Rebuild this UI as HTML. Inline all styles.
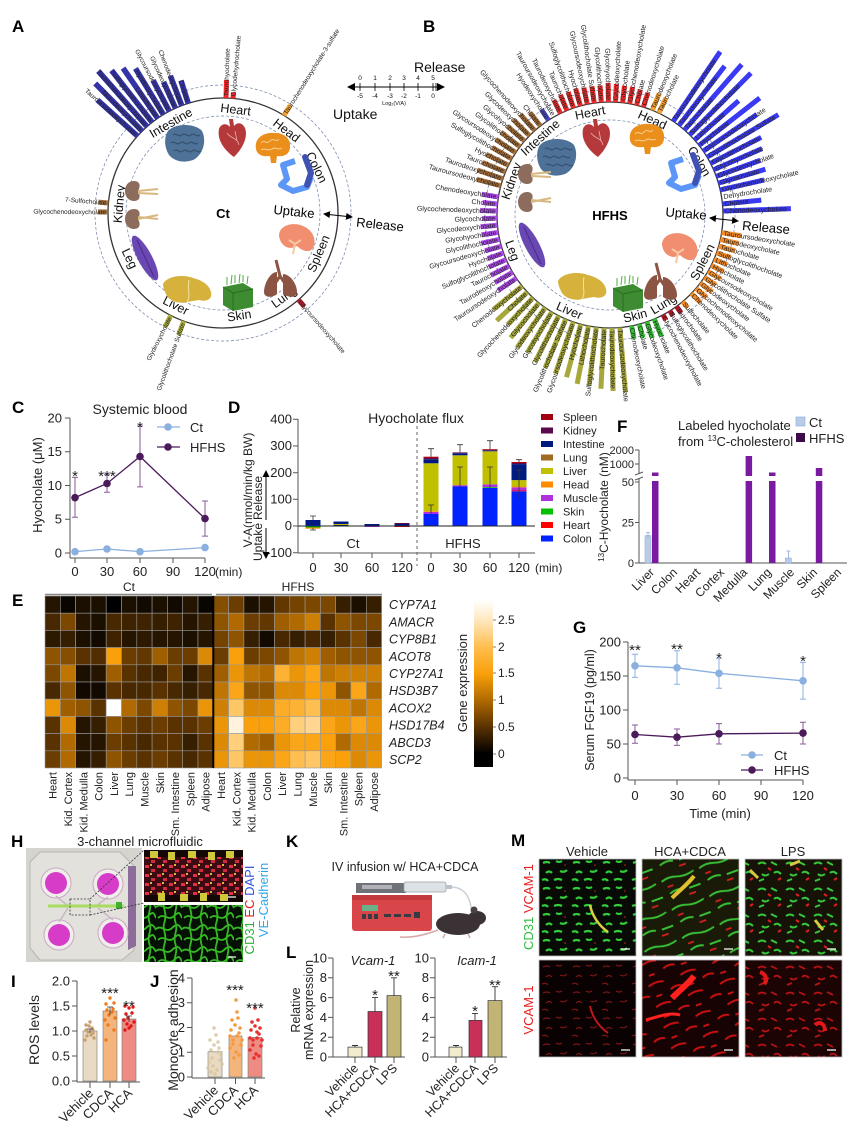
<!DOCTYPE html>
<html><head><meta charset="utf-8"><style>
html,body{margin:0;padding:0;background:#fff;}
svg{display:block;font-family:"Liberation Sans",Arial,sans-serif;}
</style></head><body>
<svg width="856" height="1139" viewBox="0 0 856 1139" xmlns="http://www.w3.org/2000/svg">
<rect width="856" height="1139" fill="#fff"/>
<defs>
<marker id="ah" markerWidth="7" markerHeight="7" refX="6" refY="3.5" orient="auto-start-reverse" markerUnits="userSpaceOnUse"><path d="M0,0 L7,3.5 L0,7Z" fill="#000"/></marker>
<linearGradient id="cb" x1="0" y1="0" x2="0" y2="1">
<stop offset="0" stop-color="#ffffff"/><stop offset="0.12" stop-color="#ffe8c0"/><stop offset="0.28" stop-color="#ffbe50"/><stop offset="0.44" stop-color="#faa00a"/><stop offset="0.60" stop-color="#b06a00"/><stop offset="0.76" stop-color="#5a3200"/><stop offset="0.92" stop-color="#000"/><stop offset="1" stop-color="#000"/>
</linearGradient>
<pattern id="gmesh" width="26" height="22" patternUnits="userSpaceOnUse"><rect width="26" height="22" fill="#051005"/><path d="M0,5 C6,0 10,10 16,4 S24,2 26,6 M2,16 C8,10 12,20 18,14 S24,12 26,16 M8,0 C6,6 12,10 8,22 M20,0 C22,8 16,12 20,22" stroke="#36b825" stroke-width="1.8" fill="none"/></pattern>
<pattern id="rdots" width="12" height="9" patternUnits="userSpaceOnUse"><rect width="12" height="9" fill="#3a0c12"/><rect x="1" y="1" width="4" height="3" fill="#e0304a"/><rect x="7" y="5" width="4" height="3" fill="#d02a40"/><rect x="6" y="0" width="2" height="2" fill="#c8c040"/></pattern>
<pattern id="gv" width="30" height="26" patternUnits="userSpaceOnUse"><rect width="30" height="26" fill="#070a05"/><path d="M3,5 q4,-2 7,0 M16,3 q3,2 6,0 M6,15 q3,-3 6,0 M20,13 q4,2 7,-1 M2,22 q4,-2 6,1 M14,22 q4,-2 8,0" stroke="#33cc3a" stroke-width="2.2" fill="none"/><circle cx="25" cy="7" r="0.8" fill="#d02020"/></pattern>
<pattern id="gvr" width="40" height="30" patternUnits="userSpaceOnUse" patternTransform="rotate(-20)"><rect width="40" height="30" fill="#1a1a08"/><path d="M0,5 q8,-3 16,0 t18,0 M4,19 q8,-3 14,0 M24,20 h12" stroke="#38c034" stroke-width="1.9" fill="none"/><path d="M4,12 h6 M22,26 h7" stroke="#d82020" stroke-width="1.8"/></pattern>
<pattern id="gl" width="28" height="26" patternUnits="userSpaceOnUse"><rect width="28" height="26" fill="#161208"/><path d="M2,6 q4,-3 8,0 M15,4 l6,3 M6,16 q3,3 7,0 M18,15 q3,-3 7,1 M3,23 l5,-2" stroke="#36c83a" stroke-width="2" fill="none"/><path d="M12,10 l3,2 M22,22 l3,-2" stroke="#d82020" stroke-width="2"/></pattern>
<pattern id="rv" width="30" height="26" patternUnits="userSpaceOnUse"><rect width="30" height="26" fill="#0a0202"/><path d="M3,5 q4,-2 7,0 M16,3 q3,2 6,0 M6,15 q3,-3 6,0 M20,13 q4,2 7,-1 M2,22 q4,-2 6,1" stroke="#7a1414" stroke-width="1.2" fill="none"/></pattern>
<pattern id="rb" width="34" height="22" patternUnits="userSpaceOnUse" patternTransform="rotate(-20)"><rect width="34" height="22" fill="#170303"/><path d="M0,5 q8,-3 16,0 M20,15 q6,-3 12,0 M4,17 h6" stroke="#c81010" stroke-width="2" fill="none"/></pattern>
<pattern id="rl" width="28" height="26" patternUnits="userSpaceOnUse"><rect width="28" height="26" fill="#1c0404"/><path d="M2,6 q4,-3 8,0 M15,4 l6,3 M6,16 q3,3 7,0 M18,15 q3,-3 7,1 M3,23 l5,-2" stroke="#b81212" stroke-width="1.8" fill="none"/></pattern>

<g id="ic-int"><path d="M-17,-12 C-10,-20 10,-20 17,-12 C22,-2 18,12 8,17 C0,20 -10,19 -16,12 C-21,4 -21,-6 -17,-12Z" fill="#4e7297"/><path d="M-12,-8 c3,-3 6,3 9,0 c3,-3 6,3 9,0 c3,-3 6,3 9,0 M-14,0 c3,-3 6,3 9,0 c3,-3 6,3 9,0 c3,-3 6,3 9,0 M-11,8 c3,-3 6,3 9,0 c3,-3 6,3 9,0 c3,-3 6,3 9,0" stroke="#33506e" stroke-width="1.2" fill="none"/></g>
<g id="ic-heart"><path d="M1,20 C-10,12 -16,2 -14,-8 C-12,-14 -6,-14 -3,-10 L-4,-18 L0,-18 L1,-11 C4,-15 9,-15 12,-9 C15,-1 11,10 1,20Z" fill="#b5383b"/><path d="M-6,-4 C-2,2 4,0 6,8 M2,-6 L4,4" stroke="#e8b0a8" stroke-width="0.8" fill="none"/></g>
<g id="ic-brain"><path d="M-17,2 C-19,-10 -8,-15 2,-14 C12,-14 18,-8 17,1 C16,8 10,10 4,9 L3,16 L-2,16 L-3,9 C-10,10 -16,8 -17,2Z" fill="#ea8e1c"/><path d="M-12,-4 c3,-4 6,2 9,-2 c3,-4 6,2 9,-2 M-12,3 c4,-3 7,2 11,-1 c3,-3 6,2 10,-1" stroke="#f8d090" stroke-width="1" fill="none"/></g>
<g id="ic-colon"><path d="M-2,-14 L-14,-10 L-10,4 L-16,10 L-4,16 L10,12 L14,2" stroke="#5c96f6" stroke-width="6" fill="none" stroke-linejoin="round"/><path d="M8,-18 L14,-2 L10,10" stroke="#3f52b4" stroke-width="6" fill="none" stroke-linecap="round"/></g>
<g id="ic-spleen"><path d="M-18,-2 C-18,-14 -2,-16 6,-12 C16,-8 20,2 16,10 C12,16 4,12 0,8 C-6,12 -16,10 -18,-2Z" fill="#f08e6f"/><path d="M-4,16 L-2,6 M-2,6 L-8,2 M-2,6 L4,2" stroke="#f6c9a0" stroke-width="2" fill="none"/></g>
<g id="ic-lung"><path d="M-3,-8 C-10,-8 -16,4 -16,12 C-16,18 -8,18 -3,14Z" fill="#8c5443"/><path d="M3,-6 C10,-6 17,4 17,12 C17,18 9,18 3,14Z" fill="#8c5443"/><path d="M-4,-20 L0,-4 M0,-4 L-4,2 M0,-4 L4,2" stroke="#8c5443" stroke-width="3" fill="none"/></g>
<g id="ic-skin"><path d="M-14,-6 L6,-10 L16,-4 L16,14 L-4,18 L-14,12Z" fill="#3e8c32"/><path d="M-14,-6 L-4,0 L16,-4 M-4,0 L-4,18" stroke="#2a6a22" stroke-width="1" fill="none"/><path d="M-10,-8 l0,-8 M-6,-9 l1,-9 M-2,-10 l0,-8 M2,-10 l1,-9 M6,-11 l0,-7 M10,-9 l1,-8" stroke="#4ab03a" stroke-width="1"/></g>
<g id="ic-liver"><path d="M-24,-4 C-20,-12 -4,-14 6,-10 C14,-8 22,-4 24,4 C26,12 18,14 12,12 L0,14 C-6,16 -16,14 -20,8 C-22,4 -24,0 -24,-4Z" fill="#d6b23d"/><path d="M2,-8 C0,2 4,8 0,14" stroke="#f3e2a0" stroke-width="1" fill="none"/></g>
<g id="ic-leg"><ellipse cx="0" cy="0" rx="7" ry="25" transform="rotate(-28)" fill="#6a48b2"/><path d="M-8,-18 L9,19" stroke="#4a2a90" stroke-width="1"/></g>
<g id="ic-kid"><path d="M-8,-24 C-20,-24 -20,-4 -8,-4 C-2,-4 -1,-9 -4,-14 C-1,-19 -2,-24 -8,-24Z" fill="#8c6c5c"/><path d="M-8,4 C-20,4 -20,24 -8,24 C-2,24 -1,19 -4,14 C-1,9 -2,4 -8,4Z" fill="#8c6c5c"/><path d="M-4,-14 L16,-16 M-4,-12 L16,-11 M-4,14 L16,10 M-4,12 L16,14" stroke="#d8b87e" stroke-width="2" fill="none"/></g>
</defs>

<!-- Panel letters -->
<g font-weight="bold" font-size="17" fill="#000">
<text x="12" y="32">A</text><text x="423" y="32">B</text>
<text x="12" y="413">C</text><text x="228" y="413">D</text>
<text x="12" y="606">E</text><text x="617" y="432">F</text>
<text x="573" y="633">G</text><text x="11" y="847">H</text>
<text x="11" y="987">I</text><text x="150" y="987">J</text>
<text x="286" y="847">K</text><text x="286" y="958">L</text>
<text x="511" y="846">M</text>
</g>

<!-- ================= PANEL A ================= -->
<g>
<circle cx="223" cy="213" r="128" fill="none" stroke="#7080a8" stroke-width="0.7" stroke-dasharray="3,2"/>
<circle cx="223" cy="213" r="97" fill="none" stroke="#7080a8" stroke-width="0.7" stroke-dasharray="3,2"/>
<circle cx="223" cy="213" r="115" fill="none" stroke="#333" stroke-width="1.3"/>
<g font-size="6.5" fill="#222">
<g transform="rotate(-48 223 213)"><rect x="220.2" y="44" width="5.6" height="54" fill="#3434a8"/><text x="223" y="96" transform="rotate(90 223 96)" text-anchor="end" dy="2.3">Tauroursodeoxycholate</text></g>
<g transform="rotate(-44.6 223 213)"><rect x="220.2" y="31" width="5.6" height="67" fill="#3434a8"/><text x="223" y="96" transform="rotate(90 223 96)" text-anchor="end" dy="2.3">Taurodeoxycholate</text></g>
<g transform="rotate(-41.3 223 213)"><rect x="220.2" y="24" width="5.6" height="74" fill="#3434a8"/><text x="223" y="96" transform="rotate(90 223 96)" text-anchor="end" dy="2.3">Taurochenodeoxycholate</text></g>
<g transform="rotate(-38 223 213)"><rect x="220.2" y="32" width="5.6" height="66" fill="#3434a8"/><text x="223" y="96" transform="rotate(90 223 96)" text-anchor="end" dy="2.3">Sulfoglycolithocholate</text></g>
<g transform="rotate(-34.6 223 213)"><rect x="220.2" y="37" width="5.6" height="61" fill="#3434a8"/><text x="223" y="96" transform="rotate(90 223 96)" text-anchor="end" dy="2.3">Lithocholate</text></g>
<g transform="rotate(-31.2 223 213)"><rect x="220.2" y="44" width="5.6" height="54" fill="#3434a8"/><text x="223" y="96" transform="rotate(90 223 96)" text-anchor="end" dy="2.3">Hyodeoxycholate</text></g>
<g transform="rotate(-27.8 223 213)"><rect x="220.2" y="63" width="5.6" height="35" fill="#3434a8"/><text x="223" y="96" transform="rotate(90 223 96)" text-anchor="end" dy="2.3">Glycoursodeoxycholate</text></g>
<g transform="rotate(-24.4 223 213)"><rect x="220.2" y="69" width="5.6" height="29" fill="#3434a8"/><text x="223" y="96" transform="rotate(90 223 96)" text-anchor="end" dy="2.3">Glycodeoxycholate</text></g>
<g transform="rotate(-21 223 213)"><rect x="220.2" y="66" width="5.6" height="32" fill="#3434a8"/><text x="223" y="96" transform="rotate(90 223 96)" text-anchor="end" dy="2.3">Chenodeoxycholate</text></g>
<g transform="rotate(-17.6 223 213)"><rect x="220.2" y="74" width="5.6" height="24" fill="#3434a8"/><text x="223" y="96" transform="rotate(90 223 96)" text-anchor="end" dy="2.3">Cholate</text></g>
<g transform="rotate(1.5 223 213)"><rect x="220.5" y="80" width="5" height="18" fill="#f02828"/><text x="223" y="96" transform="rotate(-90 223 96)" dy="2.3">Taurohyocholate</text></g>
<g transform="rotate(5 223 213)"><rect x="220.5" y="92" width="5" height="6" fill="#f02828"/><text x="223" y="96" transform="rotate(-90 223 96)" dy="2.3">Glycodehydrocholate</text></g>
<g transform="rotate(32 223 213)"><rect x="220.5" y="86" width="5" height="12" fill="#f5a030"/><text x="223" y="96" transform="rotate(-90 223 96)" dy="2.3">Taurochenodeoxycholate-3-sulfate</text></g>
<g transform="rotate(139 223 213)"><rect x="220.5" y="89" width="5" height="9" fill="#a82030"/><text x="223" y="96" transform="rotate(-90 223 96)" dy="2.3">Glycoursodeoxycholate</text></g>
<g transform="rotate(200 223 213)"><rect x="220.5" y="83" width="5" height="15" fill="#b0b040"/><text x="223" y="96" transform="rotate(90 223 96)" text-anchor="end" dy="2.3">Glycolithocholate Sulfate</text></g>
<g transform="rotate(207 223 213)"><rect x="220.5" y="85" width="5" height="13" fill="#b0b040"/><text x="223" y="96" transform="rotate(90 223 96)" text-anchor="end" dy="2.3">Glydeoxycholate</text></g>
<g transform="rotate(270.5 223 213)"><rect x="220.5" y="88" width="5" height="10" fill="#a0703a"/><text x="223" y="96" transform="rotate(90 223 96)" text-anchor="end" dy="2.3">Glycochenodeoxycholate</text></g>
<g transform="rotate(275 223 213)"><rect x="220.5" y="88" width="5" height="10" fill="#a0703a"/><text x="223" y="96" transform="rotate(90 223 96)" text-anchor="end" dy="2.3">7-Sulfocholate</text></g>
</g>
<g font-size="12.5" fill="#111" text-anchor="middle">
<text x="223" y="109" dy="4" transform="rotate(7 223 213)">Heart</text>
<text x="223" y="109" dy="4" transform="rotate(37.6 223 213)">Head</text>
<text x="223" y="109" dy="4" transform="rotate(64 223 213)">Colon</text>
<text x="223" y="317" dy="4" transform="rotate(-67 223 213)">Spleen</text>
<text x="223" y="317" dy="4" transform="rotate(-36 223 213)">Lung</text>
<text x="223" y="317" dy="4" transform="rotate(-9 223 213)">Skin</text>
<text x="223" y="317" dy="4" transform="rotate(27 223 213)">Liver</text>
<text x="223" y="317" dy="4" transform="rotate(64 223 213)">Leg</text>
<text x="223" y="109" dy="4" transform="rotate(-85 223 213)">Kidney</text>
<text x="223" y="109" dy="4" transform="rotate(-30 223 213)">Intestine</text>
</g>
<use href="#ic-int" x="185" y="143"/><use href="#ic-heart" x="233" y="137"/><use href="#ic-brain" x="273" y="147"/><use href="#ic-colon" x="297" y="175"/><use href="#ic-spleen" x="297" y="238"/><use href="#ic-lung" x="280" y="280"/><use href="#ic-skin" x="237" y="293"/><use href="#ic-liver" x="187" y="288"/><use href="#ic-leg" x="145" y="258"/><use href="#ic-kid" x="142" y="205"/>
<text x="223" y="218" text-anchor="middle" font-weight="bold" font-size="13">Ct</text>
<text x="294" y="216" text-anchor="middle" font-size="13" transform="rotate(6 294 212)">Uptake</text>
<line x1="324" y1="214" x2="352" y2="217" stroke="#000" stroke-width="1" marker-start="url(#ah)" marker-end="url(#ah)"/>
<text x="380" y="229" text-anchor="middle" font-size="13" transform="rotate(6 380 225)">Release</text>
</g>

<!-- scale legend -->
<g fill="#111">
<line x1="352" y1="87" x2="440" y2="87" stroke="#000" stroke-width="1"/>
<path d="M347,87 L355,83 L355,91Z" fill="#000"/><path d="M445,87 L437,83 L437,91Z" fill="#000"/>
<path d="M360,83V91M375,83V91M390,83V91M404,83V91M418,83V91M433,83V91M436,83V91" stroke="#000" stroke-width="0.8"/>
<g font-size="6.5" text-anchor="middle"><text x="360" y="80">0</text><text x="375" y="80">1</text><text x="390" y="80">2</text><text x="404" y="80">3</text><text x="418" y="80">4</text><text x="433" y="80">5</text>
<text x="360" y="98">-5</text><text x="375" y="98">-4</text><text x="390" y="98">-3</text><text x="404" y="98">-2</text><text x="418" y="98">-1</text><text x="433" y="98">0</text>
<text x="394" y="105" font-size="5.5">Log₂(V/A)</text></g>
<text x="414" y="72" font-size="14">Release</text>
<text x="333" y="119" font-size="14">Uptake</text>
</g>

<!-- ================= PANEL B ================= -->
<g>
<circle cx="610" cy="215" r="125" fill="none" stroke="#7080a8" stroke-width="0.7" stroke-dasharray="3,2"/>
<circle cx="610" cy="215" r="95" fill="none" stroke="#7080a8" stroke-width="0.7" stroke-dasharray="3,2"/>
<circle cx="610" cy="215" r="113" fill="none" stroke="#333" stroke-width="1.3"/>
<g font-size="7" fill="#222">
<!-- Intestine -->
<g transform="rotate(327 610 215)"><rect x="607.5" y="89" width="5" height="13" fill="#4848c8"/><text x="610" y="100" transform="rotate(90 610 100)" text-anchor="end" dy="2.4">Hyodeoxycholate</text></g>
<g transform="rotate(330.5 610 215)"><text x="610" y="100" transform="rotate(90 610 100)" text-anchor="end" dy="2.4">Tauroursodeoxycholate</text></g>
<!-- Heart -->
<g transform="rotate(-26 610 215)"><rect x="607.5" y="87" width="5" height="15" fill="#ee2a2a"/><text x="610" y="100" transform="rotate(90 610 100)" text-anchor="end" dy="2.4">Taurodeoxycholate</text></g>
<g transform="rotate(-22.4 610 215)"><rect x="607.5" y="85" width="5" height="17" fill="#ee2a2a"/><text x="610" y="100" transform="rotate(90 610 100)" text-anchor="end" dy="2.4">Taurocholate</text></g>
<g transform="rotate(-18.8 610 215)"><rect x="607.5" y="85" width="5" height="17" fill="#ee2a2a"/><text x="610" y="100" transform="rotate(90 610 100)" text-anchor="end" dy="2.4">Sulfoglycolithocholate</text></g>
<g transform="rotate(-15.2 610 215)"><rect x="607.5" y="84" width="5" height="18" fill="#ee2a2a"/><text x="610" y="100" transform="rotate(90 610 100)" text-anchor="end" dy="2.4">Hyocholate</text></g>
<g transform="rotate(-11.6 610 215)"><rect x="607.5" y="85" width="5" height="17" fill="#ee2a2a"/><text x="610" y="100" transform="rotate(90 610 100)" text-anchor="end" dy="2.4">Glycoursodeoxycholate</text></g>
<g transform="rotate(-8 610 215)"><rect x="607.5" y="85" width="5" height="17" fill="#ee2a2a"/><text x="610" y="100" transform="rotate(90 610 100)" text-anchor="end" dy="2.4">Glycolithocholate Sulfate</text></g>
<g transform="rotate(-4.4 610 215)"><rect x="607.5" y="85" width="5" height="17" fill="#ee2a2a"/><text x="610" y="100" transform="rotate(90 610 100)" text-anchor="end" dy="2.4">Glycolithocholate</text></g>
<g transform="rotate(-0.8 610 215)"><rect x="607.5" y="83" width="5" height="19" fill="#ee2a2a"/><text x="610" y="100" transform="rotate(90 610 100)" text-anchor="end" dy="2.4">Glycohyocholate</text></g>
<g transform="rotate(2.8 610 215)"><rect x="607.5" y="84" width="5" height="18" fill="#ee2a2a"/><text x="610" y="100" transform="rotate(-90 610 100)" dy="2.4">Glycodeoxycholate</text></g>
<g transform="rotate(6.4 610 215)"><rect x="607.5" y="85" width="5" height="17" fill="#ee2a2a"/><text x="610" y="100" transform="rotate(-90 610 100)" dy="2.4">Glycocholate</text></g>
<g transform="rotate(10 610 215)"><rect x="607.5" y="85" width="5" height="17" fill="#ee2a2a"/><text x="610" y="100" transform="rotate(-90 610 100)" dy="2.4">Glycochenodeoxycholate</text></g>
<g transform="rotate(13.6 610 215)"><rect x="607.5" y="86" width="5" height="16" fill="#ee2a2a"/><text x="610" y="100" transform="rotate(-90 610 100)" dy="2.4">Cholate</text></g>
<g transform="rotate(17.2 610 215)"><rect x="607.5" y="87" width="5" height="15" fill="#ee2a2a"/><text x="610" y="100" transform="rotate(-90 610 100)" dy="2.4">Chenodeoxycholate</text></g>
<!-- Head -->
<g transform="rotate(22 610 215)"><rect x="607.5" y="84" width="5" height="18" fill="#f5a030"/><text x="610" y="100" transform="rotate(-90 610 100)" dy="2.4">Taurodeoxycholate</text></g>
<g transform="rotate(25.6 610 215)"><rect x="607.5" y="85" width="5" height="17" fill="#f5a030"/><text x="610" y="100" transform="rotate(-90 610 100)" dy="2.4">Taurocholate</text></g>
<!-- Colon -->
<g transform="rotate(34 610 215)"><rect x="607.5" y="18" width="5" height="84" fill="#3a3af5"/><text x="610" y="100" transform="rotate(-90 610 100)" dy="2.4">Tauroursodeoxycholate</text></g>
<g transform="rotate(37.6 610 215)"><rect x="607.5" y="27" width="5" height="75" fill="#3a3af5"/><text x="610" y="100" transform="rotate(-90 610 100)" dy="2.4">Taurodeoxycholate</text></g>
<g transform="rotate(41.2 610 215)"><rect x="607.5" y="15" width="5" height="87" fill="#3a3af5"/><text x="610" y="100" transform="rotate(-90 610 100)" dy="2.4">Taurocholate</text></g>
<g transform="rotate(44.8 610 215)"><rect x="607.5" y="15" width="5" height="87" fill="#3a3af5"/><text x="610" y="100" transform="rotate(-90 610 100)" dy="2.4">Sulfoglycolithocholate</text></g>
<g transform="rotate(48.4 610 215)"><rect x="607.5" y="43" width="5" height="59" fill="#3a3af5"/><text x="610" y="100" transform="rotate(-90 610 100)" dy="2.4">Lithocholate</text></g>
<g transform="rotate(52 610 215)"><rect x="607.5" y="25" width="5" height="77" fill="#3a3af5"/><text x="610" y="100" transform="rotate(-90 610 100)" dy="2.4">Hyocholate</text></g>
<g transform="rotate(55.6 610 215)"><rect x="607.5" y="37" width="5" height="65" fill="#3a3af5"/><text x="610" y="100" transform="rotate(-90 610 100)" dy="2.4">Glycoursodeoxycholate</text></g>
<g transform="rotate(59.2 610 215)"><rect x="607.5" y="19" width="5" height="83" fill="#3a3af5"/><text x="610" y="100" transform="rotate(-90 610 100)" dy="2.4">Glycolithocholate Sulfate</text></g>
<g transform="rotate(62.8 610 215)"><rect x="607.5" y="45" width="5" height="57" fill="#3a3af5"/><text x="610" y="100" transform="rotate(-90 610 100)" dy="2.4">Glycolithocholate</text></g>
<g transform="rotate(66.4 610 215)"><rect x="607.5" y="49" width="5" height="53" fill="#3a3af5"/><text x="610" y="100" transform="rotate(-90 610 100)" dy="2.4">Glycohyocholate</text></g>
<g transform="rotate(70 610 215)"><rect x="607.5" y="55" width="5" height="47" fill="#3a3af5"/><text x="610" y="100" transform="rotate(-90 610 100)" dy="2.4">Glycodeoxycholate</text></g>
<g transform="rotate(73.6 610 215)"><rect x="607.5" y="53" width="5" height="49" fill="#3a3af5"/><text x="610" y="100" transform="rotate(-90 610 100)" dy="2.4">Glycocholate</text></g>
<g transform="rotate(77.2 610 215)"><rect x="607.5" y="57" width="5" height="45" fill="#3a3af5"/><text x="610" y="100" transform="rotate(-90 610 100)" dy="2.4">Glycochenodeoxycholate</text></g>
<g transform="rotate(80.8 610 215)"><text x="610" y="100" transform="rotate(-90 610 100)" dy="2.4">Dehydrocholate</text></g>
<g transform="rotate(84.4 610 215)"><rect x="607.5" y="63" width="5" height="39" fill="#3a3af5"/><text x="610" y="100" transform="rotate(-90 610 100)" dy="2.4">Cholate</text></g>
<g transform="rotate(88 610 215)"><rect x="607.5" y="34" width="5" height="68" fill="#3a3af5"/><text x="610" y="100" transform="rotate(-90 610 100)" dy="2.4">Chenodeoxycholate</text></g>
<!-- Spleen -->
<g transform="rotate(99 610 215)"><rect x="607.5" y="82" width="5" height="20" fill="#f58c28"/><text x="610" y="100" transform="rotate(-90 610 100)" dy="2.4">Tauroursodeoxycholate</text></g>
<g transform="rotate(102.5 610 215)"><rect x="607.5" y="83" width="5" height="19" fill="#f58c28"/><text x="610" y="100" transform="rotate(-90 610 100)" dy="2.4">Taurodeoxycholate</text></g>
<g transform="rotate(106 610 215)"><rect x="607.5" y="85" width="5" height="17" fill="#f58c28"/><text x="610" y="100" transform="rotate(-90 610 100)" dy="2.4">Taurocholate</text></g>
<g transform="rotate(109.5 610 215)"><rect x="607.5" y="87" width="5" height="15" fill="#f58c28"/><text x="610" y="100" transform="rotate(-90 610 100)" dy="2.4">Sulfoglycolithocholate</text></g>
<g transform="rotate(113 610 215)"><rect x="607.5" y="88" width="5" height="14" fill="#f58c28"/><text x="610" y="100" transform="rotate(-90 610 100)" dy="2.4">Lithocholate</text></g>
<g transform="rotate(116.5 610 215)"><rect x="607.5" y="88" width="5" height="14" fill="#f58c28"/><text x="610" y="100" transform="rotate(-90 610 100)" dy="2.4">Hyocholate</text></g>
<g transform="rotate(120 610 215)"><rect x="607.5" y="87" width="5" height="15" fill="#f58c28"/><text x="610" y="100" transform="rotate(-90 610 100)" dy="2.4">Glycoursodeoxycholate</text></g>
<g transform="rotate(123.5 610 215)"><rect x="607.5" y="88" width="5" height="14" fill="#f58c28"/><text x="610" y="100" transform="rotate(-90 610 100)" dy="2.4">Glycolithocholate Sulfate</text></g>
<g transform="rotate(127 610 215)"><rect x="607.5" y="87" width="5" height="15" fill="#f58c28"/><text x="610" y="100" transform="rotate(-90 610 100)" dy="2.4">Glycodeoxycholate</text></g>
<g transform="rotate(130.5 610 215)"><rect x="607.5" y="88" width="5" height="14" fill="#f58c28"/><text x="610" y="100" transform="rotate(-90 610 100)" dy="2.4">Glycochenodeoxycholate</text></g>
<g transform="rotate(134 610 215)"><rect x="607.5" y="89" width="5" height="13" fill="#f58c28"/><text x="610" y="100" transform="rotate(-90 610 100)" dy="2.4">Chenodeoxycholate</text></g>
<!-- Lung -->
<g transform="rotate(140 610 215)"><rect x="607.5" y="94" width="5" height="8" fill="#f58c28"/><text x="610" y="100" transform="rotate(-90 610 100)" dy="2.4">Sulfocholate</text></g>
<g transform="rotate(144 610 215)"><rect x="607.5" y="94" width="5" height="8" fill="#b01828"/><text x="610" y="100" transform="rotate(-90 610 100)" dy="2.4">Taurocholate</text></g>
<g transform="rotate(148 610 215)"><rect x="607.5" y="96" width="5" height="6" fill="#b01828"/><text x="610" y="100" transform="rotate(-90 610 100)" dy="2.4">Sulfoglycolithocholate</text></g>
<g transform="rotate(152 610 215)"><rect x="607.5" y="96" width="5" height="6" fill="#b01828"/><text x="610" y="100" transform="rotate(-90 610 100)" dy="2.4">Glycochenodeoxycholate</text></g>
<!-- Skin -->
<g transform="rotate(157 610 215)"><rect x="607.5" y="83" width="5" height="19" fill="#33c033"/><text x="610" y="100" transform="rotate(-90 610 100)" dy="2.4">Hyocholate</text></g>
<g transform="rotate(161 610 215)"><rect x="607.5" y="85" width="5" height="17" fill="#33c033"/><text x="610" y="100" transform="rotate(-90 610 100)" dy="2.4">Glycodeoxycholate</text></g>
<g transform="rotate(165 610 215)"><rect x="607.5" y="88" width="5" height="14" fill="#33c033"/><text x="610" y="100" transform="rotate(-90 610 100)" dy="2.4">Cholate</text></g>
<g transform="rotate(169 610 215)"><rect x="607.5" y="89" width="5" height="13" fill="#33c033"/><text x="610" y="100" transform="rotate(-90 610 100)" dy="2.4">Chenodeoxycholate</text></g>
<!-- Liver -->
<g transform="rotate(175 610 215)"><rect x="607.5" y="37" width="5" height="65" fill="#a8a83a"/><text x="610" y="100" transform="rotate(-90 610 100)" dy="2.4">Tauroursodeoxycholate</text></g>
<g transform="rotate(179 610 215)"><rect x="607.5" y="39" width="5" height="63" fill="#a8a83a"/><text x="610" y="100" transform="rotate(-90 610 100)" dy="2.4">Taurodeoxycholate</text></g>
<g transform="rotate(183 610 215)"><rect x="607.5" y="41" width="5" height="61" fill="#a8a83a"/><text x="610" y="100" transform="rotate(90 610 100)" text-anchor="end" dy="2.4">Taurocholate</text></g>
<g transform="rotate(187 610 215)"><rect x="607.5" y="43" width="5" height="59" fill="#a8a83a"/><text x="610" y="100" transform="rotate(90 610 100)" text-anchor="end" dy="2.4">Sulfoglycolithocholate</text></g>
<g transform="rotate(191 610 215)"><rect x="607.5" y="43" width="5" height="59" fill="#a8a83a"/><text x="610" y="100" transform="rotate(90 610 100)" text-anchor="end" dy="2.4">Lithocholate</text></g>
<g transform="rotate(195 610 215)"><rect x="607.5" y="47" width="5" height="55" fill="#a8a83a"/><text x="610" y="100" transform="rotate(90 610 100)" text-anchor="end" dy="2.4">Hyocholate</text></g>
<g transform="rotate(199 610 215)"><rect x="607.5" y="47" width="5" height="55" fill="#a8a83a"/><text x="610" y="100" transform="rotate(90 610 100)" text-anchor="end" dy="2.4">Glycoursodeoxycholate</text></g>
<g transform="rotate(203 610 215)"><rect x="607.5" y="49" width="5" height="53" fill="#a8a83a"/><text x="610" y="100" transform="rotate(90 610 100)" text-anchor="end" dy="2.4">Glycolithocholate Sulfate</text></g>
<g transform="rotate(207 610 215)"><rect x="607.5" y="50" width="5" height="52" fill="#a8a83a"/><text x="610" y="100" transform="rotate(90 610 100)" text-anchor="end" dy="2.4">Glycolithocholate</text></g>
<g transform="rotate(211 610 215)"><rect x="607.5" y="55" width="5" height="47" fill="#a8a83a"/><text x="610" y="100" transform="rotate(90 610 100)" text-anchor="end" dy="2.4">Glycohyocholate</text></g>
<g transform="rotate(215 610 215)"><rect x="607.5" y="53" width="5" height="49" fill="#a8a83a"/><text x="610" y="100" transform="rotate(90 610 100)" text-anchor="end" dy="2.4">Glycodeoxycholate</text></g>
<g transform="rotate(219 610 215)"><rect x="607.5" y="57" width="5" height="45" fill="#a8a83a"/><text x="610" y="100" transform="rotate(90 610 100)" text-anchor="end" dy="2.4">Glycocholate</text></g>
<g transform="rotate(223 610 215)"><rect x="607.5" y="65" width="5" height="37" fill="#a8a83a"/><text x="610" y="100" transform="rotate(90 610 100)" text-anchor="end" dy="2.4">Glycochenodeoxycholate</text></g>
<g transform="rotate(227 610 215)"><rect x="607.5" y="60" width="5" height="42" fill="#a8a83a"/><text x="610" y="100" transform="rotate(90 610 100)" text-anchor="end" dy="2.4">Cholate</text></g>
<g transform="rotate(231 610 215)"><rect x="607.5" y="65" width="5" height="37" fill="#a8a83a"/><text x="610" y="100" transform="rotate(90 610 100)" text-anchor="end" dy="2.4">Chenodeoxycholate</text></g>
<!-- Leg -->
<g transform="rotate(236 610 215)"><rect x="607.5" y="80" width="5" height="22" fill="#b048f0"/><text x="610" y="100" transform="rotate(90 610 100)" text-anchor="end" dy="2.4">Tauroursodeoxycholate</text></g>
<g transform="rotate(239.6 610 215)"><rect x="607.5" y="82" width="5" height="20" fill="#b048f0"/><text x="610" y="100" transform="rotate(90 610 100)" text-anchor="end" dy="2.4">Taurodeoxycholate</text></g>
<g transform="rotate(243.2 610 215)"><rect x="607.5" y="82" width="5" height="20" fill="#b048f0"/><text x="610" y="100" transform="rotate(90 610 100)" text-anchor="end" dy="2.4">Taurocholate</text></g>
<g transform="rotate(246.8 610 215)"><rect x="607.5" y="83" width="5" height="19" fill="#b048f0"/><text x="610" y="100" transform="rotate(90 610 100)" text-anchor="end" dy="2.4">Sulfoglycolithocholate</text></g>
<g transform="rotate(250.4 610 215)"><rect x="607.5" y="85" width="5" height="17" fill="#b048f0"/><text x="610" y="100" transform="rotate(90 610 100)" text-anchor="end" dy="2.4">Hyocholate</text></g>
<g transform="rotate(254 610 215)"><rect x="607.5" y="85" width="5" height="17" fill="#b048f0"/><text x="610" y="100" transform="rotate(90 610 100)" text-anchor="end" dy="2.4">Glycoursodeoxycholate</text></g>
<g transform="rotate(257.6 610 215)"><rect x="607.5" y="83" width="5" height="19" fill="#b048f0"/><text x="610" y="100" transform="rotate(90 610 100)" text-anchor="end" dy="2.4">Glycolithocholate</text></g>
<g transform="rotate(261.2 610 215)"><rect x="607.5" y="85" width="5" height="17" fill="#b048f0"/><text x="610" y="100" transform="rotate(90 610 100)" text-anchor="end" dy="2.4">Glycohyocholate</text></g>
<g transform="rotate(264.8 610 215)"><rect x="607.5" y="85" width="5" height="17" fill="#b048f0"/><text x="610" y="100" transform="rotate(90 610 100)" text-anchor="end" dy="2.4">Glycodeoxycholate</text></g>
<g transform="rotate(268.4 610 215)"><rect x="607.5" y="87" width="5" height="15" fill="#b048f0"/><text x="610" y="100" transform="rotate(90 610 100)" text-anchor="end" dy="2.4">Glycocholate</text></g>
<g transform="rotate(272 610 215)"><rect x="607.5" y="85" width="5" height="17" fill="#b048f0"/><text x="610" y="100" transform="rotate(90 610 100)" text-anchor="end" dy="2.4">Glycochenodeoxycholate</text></g>
<g transform="rotate(275.6 610 215)"><rect x="607.5" y="87" width="5" height="15" fill="#b048f0"/><text x="610" y="100" transform="rotate(90 610 100)" text-anchor="end" dy="2.4">Cholate</text></g>
<g transform="rotate(279.2 610 215)"><rect x="607.5" y="85" width="5" height="17" fill="#b048f0"/><text x="610" y="100" transform="rotate(90 610 100)" text-anchor="end" dy="2.4">Chenodeoxycholate</text></g>
<!-- Kidney -->
<g transform="rotate(285 610 215)"><rect x="607.5" y="77" width="5" height="25" fill="#a8703a"/><text x="610" y="100" transform="rotate(90 610 100)" text-anchor="end" dy="2.4">Tauroursodeoxycholate</text></g>
<g transform="rotate(288.7 610 215)"><rect x="607.5" y="75" width="5" height="27" fill="#a8703a"/><text x="610" y="100" transform="rotate(90 610 100)" text-anchor="end" dy="2.4">Taurodeoxycholate</text></g>
<g transform="rotate(292.4 610 215)"><rect x="607.5" y="77" width="5" height="25" fill="#a8703a"/><text x="610" y="100" transform="rotate(90 610 100)" text-anchor="end" dy="2.4">Taurocholate</text></g>
<g transform="rotate(296.1 610 215)"><rect x="607.5" y="77" width="5" height="25" fill="#a8703a"/><text x="610" y="100" transform="rotate(90 610 100)" text-anchor="end" dy="2.4">Hyocholate</text></g>
<g transform="rotate(299.8 610 215)"><rect x="607.5" y="79" width="5" height="23" fill="#a8703a"/><text x="610" y="100" transform="rotate(90 610 100)" text-anchor="end" dy="2.4">Sulfoglycolithocholate</text></g>
<g transform="rotate(303.5 610 215)"><rect x="607.5" y="78" width="5" height="24" fill="#a8703a"/><text x="610" y="100" transform="rotate(90 610 100)" text-anchor="end" dy="2.4">Glycoursodeoxycholate</text></g>
<g transform="rotate(307.2 610 215)"><rect x="607.5" y="78" width="5" height="24" fill="#a8703a"/><text x="610" y="100" transform="rotate(90 610 100)" text-anchor="end" dy="2.4">Glycolithocholate</text></g>
<g transform="rotate(310.9 610 215)"><rect x="607.5" y="79" width="5" height="23" fill="#a8703a"/><text x="610" y="100" transform="rotate(90 610 100)" text-anchor="end" dy="2.4">Glycohyocholate</text></g>
<g transform="rotate(314.6 610 215)"><rect x="607.5" y="79" width="5" height="23" fill="#a8703a"/><text x="610" y="100" transform="rotate(90 610 100)" text-anchor="end" dy="2.4">Glycodeoxycholate</text></g>
<g transform="rotate(318.3 610 215)"><rect x="607.5" y="80" width="5" height="22" fill="#a8703a"/><text x="610" y="100" transform="rotate(90 610 100)" text-anchor="end" dy="2.4">Glycochenodeoxycholate</text></g>
<g transform="rotate(322 610 215)"><rect x="607.5" y="85" width="5" height="17" fill="#a8703a"/><text x="610" y="100" transform="rotate(90 610 100)" text-anchor="end" dy="2.4">Cholate</text></g>
</g>
<g font-size="12.5" fill="#111" text-anchor="middle">
<text x="610" y="111" dy="4" transform="rotate(-11 610 215)">Heart</text>
<text x="610" y="111" dy="4" transform="rotate(24 610 215)">Head</text>
<text x="610" y="111" dy="4" transform="rotate(59 610 215)">Colon</text>
<text x="610" y="319" dy="4" transform="rotate(-63 610 215)">Spleen</text>
<text x="610" y="319" dy="4" transform="rotate(-31 610 215)">Lung</text>
<text x="610" y="319" dy="4" transform="rotate(-14 610 215)">Skin</text>
<text x="610" y="319" dy="4" transform="rotate(23 610 215)">Liver</text>
<text x="610" y="319" dy="4" transform="rotate(70 610 215)">Leg</text>
<text x="610" y="111" dy="4" transform="rotate(-71 610 215)">Kidney</text>
<text x="610" y="111" dy="4" transform="rotate(-42 610 215)">Intestine</text>
</g>
<use href="#ic-int" x="557" y="157"/><use href="#ic-heart" x="597" y="137"/><use href="#ic-brain" x="647" y="138"/><use href="#ic-colon" x="685" y="173"/><use href="#ic-spleen" x="680" y="247"/><use href="#ic-lung" x="660" y="283"/><use href="#ic-skin" x="627" y="294"/><use href="#ic-liver" x="582" y="285"/><use href="#ic-leg" x="532" y="245"/><use href="#ic-kid" x="535" y="188"/>
<text x="610" y="220" text-anchor="middle" font-weight="bold" font-size="13">HFHS</text>
<text x="686" y="218" text-anchor="middle" font-size="13" transform="rotate(5 686 214)">Uptake</text>
<line x1="710" y1="218" x2="738" y2="221" stroke="#000" stroke-width="1" marker-start="url(#ah)" marker-end="url(#ah)"/>
<text x="766" y="232" text-anchor="middle" font-size="13" transform="rotate(5 766 228)">Release</text>
</g>

<!-- ================= PANEL C ================= -->
<g font-size="13" fill="#222">
<text x="140" y="414" text-anchor="middle" font-size="14">Systemic blood</text>
<path d="M70,418V558M65,418H70M65,451.75H70M65,485.5H70M65,519.25H70M65,553H70M70,558H205M75,558V563M107,558V563M140,558V563M173,558V563M205,558V563" stroke="#555" stroke-width="1" fill="none"/>
<g text-anchor="end"><text x="62" y="422.5">20</text><text x="62" y="456">15</text><text x="62" y="490">10</text><text x="62" y="523.5">5</text><text x="62" y="557.5">0</text></g>
<g text-anchor="middle"><text x="75" y="576">0</text><text x="107" y="576">30</text><text x="140" y="576">60</text><text x="173" y="576">90</text><text x="205" y="576">120</text></g>
<text x="215" y="576" font-size="12">(min)</text>
<text transform="translate(42,485) rotate(-90)" text-anchor="middle">Hyocholate (μM)</text>
<path d="M75,477.4V517.2M72,477.4H78M72,517.2H78M107,474.7V492.25M104,474.7H110M104,492.25H110M140,426.1V486.85M137,426.1H143M137,486.85H143M205,501V536.1M202,501H208M202,536.1H208" stroke="#8a5a9a" stroke-width="1"/>
<polyline points="75,497.65 107,483.5 140,456.5 205,518.6" fill="none" stroke="#4b1a5a" stroke-width="1.3"/>
<g fill="#4b1a5a"><circle cx="75" cy="497.65" r="3.8"/><circle cx="107" cy="483.5" r="3.8"/><circle cx="140" cy="456.5" r="3.8"/><circle cx="205" cy="518.6" r="3.8"/></g>
<polyline points="75,551.65 107,549 140,551.65 205,547.6" fill="none" stroke="#8ab0e0" stroke-width="1.3"/>
<g fill="#8ab0e0"><circle cx="75" cy="551.65" r="3.8"/><circle cx="107" cy="549" r="3.8"/><circle cx="140" cy="551.65" r="3.8"/><circle cx="205" cy="547.6" r="3.8"/></g>
<g font-size="15" text-anchor="middle"><text x="75" y="481">*</text><text x="107" y="481">***</text><text x="140" y="432">*</text></g>
<line x1="157" y1="427" x2="180" y2="427" stroke="#8ab0e0" stroke-width="1.3"/><circle cx="168" cy="427" r="3.8" fill="#8ab0e0"/><text x="190" y="432">Ct</text>
<line x1="157" y1="447" x2="180" y2="447" stroke="#4b1a5a" stroke-width="1.3"/><circle cx="168" cy="447" r="3.8" fill="#4b1a5a"/><text x="190" y="452">HFHS</text>
</g>

<!-- ================= PANEL D ================= -->
<g font-size="13" fill="#222">
<text x="416" y="423" text-anchor="middle" font-size="14">Hyocholate flux</text>
<path d="M298,419V553M293,419.3H298M293,446H298M293,472.7H298M293,499.3H298M293,526H298M293,552.7H298M298,553H535M313,553V558M341,553V558M372,553V558M402,553V558M431,553V558M460,553V558M490,553V558M519,553V558" stroke="#555" stroke-width="1" fill="none"/>
<g text-anchor="end"><text x="292" y="423.5">400</text><text x="292" y="450">300</text><text x="292" y="477">200</text><text x="292" y="503.5">100</text><text x="292" y="530">0</text><text x="292" y="557">-100</text></g>
<g text-anchor="middle"><text x="313" y="572">0</text><text x="341" y="572">30</text><text x="372" y="572">60</text><text x="402" y="572">120</text><text x="431" y="572">0</text><text x="460" y="572">30</text><text x="490" y="572">60</text><text x="519" y="572">120</text>
<text x="353" y="548">Ct</text><text x="463" y="548">HFHS</text></g>
<text x="535" y="572" font-size="12">(min)</text>
<line x1="417" y1="420" x2="417" y2="566" stroke="#666" stroke-width="1" stroke-dasharray="3,3"/>
<text transform="translate(252,490) rotate(-90)" text-anchor="middle" font-size="12">V-A(nmol/min/kg BW)</text>
<text transform="translate(262,498) rotate(-90)" text-anchor="middle" font-size="12">Release</text>
<text transform="translate(262,542) rotate(-90)" text-anchor="middle" font-size="12">Uptake</text>
<line x1="266" y1="520" x2="266" y2="471" stroke="#000" stroke-width="1" marker-end="url(#ah)"/>
<line x1="266" y1="528" x2="266" y2="558" stroke="#000" stroke-width="1" marker-end="url(#ah)"/>
<rect x="305.5" y="520" width="15" height="6" fill="#001a80"/><rect x="305.5" y="525" width="15" height="1" fill="#0022ff"/><rect x="305.5" y="526" width="15" height="1.5" fill="#00c000"/><rect x="305.5" y="527.5" width="15" height="1.2" fill="#ff8c00"/>
<path d="M313,520V516M310,516H316M313,528V530M310,530H316" stroke="#333" stroke-width="0.8"/>
<rect x="333.5" y="521.5" width="15" height="4.5" fill="#001a80"/><rect x="333.5" y="524" width="15" height="1" fill="#c0c000"/>
<rect x="364.5" y="524" width="15" height="2" fill="#001a80"/><rect x="364.5" y="526" width="15" height="1" fill="#b030e0"/>
<rect x="394.5" y="523.5" width="15" height="2.5" fill="#001a80"/><rect x="394.5" y="523" width="15" height="1" fill="#5a0a4a"/><rect x="394.5" y="526" width="15" height="1" fill="#ff0000"/>
<rect x="423.5" y="514" width="15" height="12" fill="#0022ff"/><rect x="423.5" y="511.9" width="15" height="2.1" fill="#b030e0"/><rect x="423.5" y="511.1" width="15" height="0.8" fill="#ff8c00"/><rect x="423.5" y="463.3" width="15" height="47.8" fill="#c0c000"/><rect x="423.5" y="459.3" width="15" height="4" fill="#001a80"/><rect x="423.5" y="458" width="15" height="1.3" fill="#5a0a4a"/><rect x="423.5" y="456.7" width="15" height="1.3" fill="#b00010"/>
<path d="M431,456.7V448.7M428,448.7H434M431,514V505M428,505H434" stroke="#333" stroke-width="0.8"/>
<rect x="452.5" y="486.5" width="15" height="39.5" fill="#0022ff"/><rect x="452.5" y="485.2" width="15" height="1.3" fill="#b030e0"/><rect x="452.5" y="455.3" width="15" height="29.9" fill="#c0c000"/><rect x="452.5" y="453.2" width="15" height="2.1" fill="#001a80"/><rect x="452.5" y="452.4" width="15" height="0.8" fill="#5a0a4a"/>
<path d="M460,452.4V444.7M457,444.7H463M460,486.5V467M457,467H463" stroke="#333" stroke-width="0.8"/>
<rect x="482.5" y="487.9" width="15" height="38.1" fill="#0022ff"/><rect x="482.5" y="487.1" width="15" height="0.8" fill="#00c000"/><rect x="482.5" y="484.4" width="15" height="2.7" fill="#b030e0"/><rect x="482.5" y="451.3" width="15" height="33.1" fill="#c0c000"/><rect x="482.5" y="450.2" width="15" height="1.1" fill="#001a80"/><rect x="482.5" y="449.2" width="15" height="1" fill="#b00010"/>
<path d="M490,449.2V440.7M487,440.7H493M490,487.9V467M487,467H493" stroke="#333" stroke-width="0.8"/>
<rect x="511.5" y="491.3" width="15" height="34.7" fill="#0022ff"/><rect x="511.5" y="490.5" width="15" height="0.8" fill="#ff0000"/><rect x="511.5" y="487.3" width="15" height="3.2" fill="#b030e0"/><rect x="511.5" y="486.5" width="15" height="0.8" fill="#ff8c00"/><rect x="511.5" y="480.1" width="15" height="6.4" fill="#c0c000"/><rect x="511.5" y="464.1" width="15" height="16" fill="#001a80"/><rect x="511.5" y="463" width="15" height="1.1" fill="#5a0a4a"/><rect x="511.5" y="462" width="15" height="1" fill="#b00010"/>
<path d="M519,462V459.7M516,459.7H522M519,499V470M516,470H522" stroke="#333" stroke-width="0.8"/>
<line x1="298" y1="526" x2="535" y2="526" stroke="#222" stroke-width="1"/>
<g font-size="11">
<rect x="541" y="414" width="12" height="6" fill="#a00010"/><text x="563" y="421">Spleen</text>
<rect x="541" y="427.5" width="12" height="6" fill="#5a0a4a"/><text x="563" y="434.5">Kidney</text>
<rect x="541" y="441" width="12" height="6" fill="#001a80"/><text x="563" y="448">Intestine</text>
<rect x="541" y="454.5" width="12" height="6" fill="#a06a20"/><text x="563" y="461.5">Lung</text>
<rect x="541" y="468" width="12" height="6" fill="#c0c000"/><text x="563" y="475">Liver</text>
<rect x="541" y="481.5" width="12" height="6" fill="#ff8c00"/><text x="563" y="488.5">Head</text>
<rect x="541" y="495" width="12" height="6" fill="#b030e0"/><text x="563" y="502">Muscle</text>
<rect x="541" y="508.5" width="12" height="6" fill="#00c000"/><text x="563" y="515.5">Skin</text>
<rect x="541" y="522" width="12" height="6" fill="#ff0000"/><text x="563" y="529">Heart</text>
<rect x="541" y="535.5" width="12" height="6" fill="#0022ff"/><text x="563" y="542.5">Colon</text>
</g>
</g>

<!-- ================= PANEL F ================= -->
<g font-size="12" fill="#222">
<text x="678" y="430" font-size="13">Labeled hyocholate</text>
<text x="678" y="446" font-size="13">from <tspan font-size="8" dy="-5">13</tspan><tspan dy="5">C-cholesterol</tspan></text>
<rect x="796" y="417" width="9" height="9" fill="#b8cce8" stroke="#8aa8d8" stroke-width="0.6"/><text x="809" y="427" font-size="13">Ct</text>
<rect x="796" y="433" width="9" height="9" fill="#3a0a4a"/><text x="809" y="443" font-size="13">HFHS</text>
<path d="M639,450V474M639,479V563M635,450H639M635,464H639M635,482H639M635,522.5H639M635,563H639M635,475L643,472M635,480L643,477M639,563H847" stroke="#555" stroke-width="1" fill="none"/>
<g text-anchor="end" font-size="11"><text x="634" y="454">2000</text><text x="634" y="468">1000</text><text x="634" y="486">50</text><text x="634" y="526.5">25</text><text x="634" y="567">0</text></g>
<text transform="translate(608,507) rotate(-90)" text-anchor="middle"><tspan font-size="8" dy="-4">13</tspan><tspan dy="4">C-Hyocholate (nM)</tspan></text>
<rect x="645" y="535.5" width="6" height="27.5" fill="#b8cce8" stroke="#8aa8d8" stroke-width="0.5"/>
<path d="M648,532.5V538M646,532.5H650" stroke="#8aa8d8" stroke-width="0.8"/>
<g fill="#7a1aa0">
<rect x="652" y="481" width="6.5" height="82"/><rect x="652" y="472.5" width="6.5" height="3.5"/>
<rect x="745.6" y="481" width="6.5" height="82"/><rect x="745.6" y="456" width="6.5" height="20"/>
<rect x="769" y="481" width="6.5" height="82"/><rect x="769" y="472.5" width="6.5" height="3.5"/>
<rect x="815.8" y="481" width="6.5" height="82"/><rect x="815.8" y="468" width="6.5" height="8"/>
</g>
<rect x="785.4" y="558" width="6" height="5" fill="#b8cce8" stroke="#8aa8d8" stroke-width="0.5"/>
<path d="M788.4,558V551M786.4,551H790.4" stroke="#8aa8d8" stroke-width="0.8"/>
<g font-size="12" text-anchor="end">
<text transform="translate(655,573) rotate(-45)">Liver</text>
<text transform="translate(678,573) rotate(-45)">Colon</text>
<text transform="translate(701,573) rotate(-45)">Heart</text>
<text transform="translate(725,573) rotate(-45)">Cortex</text>
<text transform="translate(748,573) rotate(-45)">Medulla</text>
<text transform="translate(772,573) rotate(-45)">Lung</text>
<text transform="translate(795,573) rotate(-45)">Muscle</text>
<text transform="translate(818,573) rotate(-45)">Skin</text>
<text transform="translate(842,573) rotate(-45)">Spleen</text>
</g>
</g>

<!-- ================= PANEL E ================= -->
<g font-size="12" fill="#222">
<text x="129" y="591" text-anchor="middle">Ct</text><text x="298" y="591" text-anchor="middle">HFHS</text>
<path d="M45,594.5H212M216,594.5H382" stroke="#888" stroke-width="1.5"/>
<g stroke="#9a9a9a" stroke-width="0.6">
<rect x="45" y="596" width="15.3" height="17.2" fill="#241400"/><rect x="60.3" y="596" width="15.3" height="17.2" fill="#090500"/><rect x="75.6" y="596" width="15.3" height="17.2" fill="#1b0f00"/><rect x="90.9" y="596" width="15.3" height="17.2" fill="#1b0f00"/><rect x="106.2" y="596" width="15.3" height="17.2" fill="#000000"/><rect x="121.5" y="596" width="15.3" height="17.2" fill="#1b0f00"/><rect x="136.8" y="596" width="15.3" height="17.2" fill="#120a00"/><rect x="152.1" y="596" width="15.3" height="17.2" fill="#1b0f00"/><rect x="167.4" y="596" width="15.3" height="17.2" fill="#120a00"/><rect x="182.7" y="596" width="15.3" height="17.2" fill="#241400"/><rect x="198" y="596" width="15.3" height="17.2" fill="#090500"/>
<rect x="213.3" y="596" width="15.3" height="17.2" fill="#854e00"/><rect x="228.6" y="596" width="15.3" height="17.2" fill="#6b3d00"/><rect x="243.9" y="596" width="15.3" height="17.2" fill="#1b0f00"/><rect x="259.2" y="596" width="15.3" height="17.2" fill="#241400"/><rect x="274.5" y="596" width="15.3" height="17.2" fill="#633800"/><rect x="289.8" y="596" width="15.3" height="17.2" fill="#744300"/><rect x="305.1" y="596" width="15.3" height="17.2" fill="#7c4800"/><rect x="320.4" y="596" width="15.3" height="17.2" fill="#7c4800"/><rect x="335.7" y="596" width="15.3" height="17.2" fill="#361e00"/><rect x="351" y="596" width="15.3" height="17.2" fill="#1b0f00"/><rect x="366.3" y="596" width="15.3" height="17.2" fill="#361e00"/>
<rect x="45" y="613.2" width="15.3" height="17.2" fill="#482800"/><rect x="60.3" y="613.2" width="15.3" height="17.2" fill="#7c4800"/><rect x="75.6" y="613.2" width="15.3" height="17.2" fill="#241400"/><rect x="90.9" y="613.2" width="15.3" height="17.2" fill="#1b0f00"/><rect x="106.2" y="613.2" width="15.3" height="17.2" fill="#482800"/><rect x="121.5" y="613.2" width="15.3" height="17.2" fill="#3f2300"/><rect x="136.8" y="613.2" width="15.3" height="17.2" fill="#3f2300"/><rect x="152.1" y="613.2" width="15.3" height="17.2" fill="#361e00"/><rect x="167.4" y="613.2" width="15.3" height="17.2" fill="#3f2300"/><rect x="182.7" y="613.2" width="15.3" height="17.2" fill="#241400"/><rect x="198" y="613.2" width="15.3" height="17.2" fill="#361e00"/>
<rect x="213.3" y="613.2" width="15.3" height="17.2" fill="#8e5400"/><rect x="228.6" y="613.2" width="15.3" height="17.2" fill="#b06a00"/><rect x="243.9" y="613.2" width="15.3" height="17.2" fill="#6b3d00"/><rect x="259.2" y="613.2" width="15.3" height="17.2" fill="#633800"/><rect x="274.5" y="613.2" width="15.3" height="17.2" fill="#9f5f00"/><rect x="289.8" y="613.2" width="15.3" height="17.2" fill="#b06a00"/><rect x="305.1" y="613.2" width="15.3" height="17.2" fill="#ce8004"/><rect x="320.4" y="613.2" width="15.3" height="17.2" fill="#5a3200"/><rect x="335.7" y="613.2" width="15.3" height="17.2" fill="#8e5400"/><rect x="351" y="613.2" width="15.3" height="17.2" fill="#7c4800"/><rect x="366.3" y="613.2" width="15.3" height="17.2" fill="#7c4800"/>
<rect x="45" y="630.4" width="15.3" height="17.2" fill="#2d1900"/><rect x="60.3" y="630.4" width="15.3" height="17.2" fill="#361e00"/><rect x="75.6" y="630.4" width="15.3" height="17.2" fill="#1b0f00"/><rect x="90.9" y="630.4" width="15.3" height="17.2" fill="#120a00"/><rect x="106.2" y="630.4" width="15.3" height="17.2" fill="#3f2300"/><rect x="121.5" y="630.4" width="15.3" height="17.2" fill="#241400"/><rect x="136.8" y="630.4" width="15.3" height="17.2" fill="#2d1900"/><rect x="152.1" y="630.4" width="15.3" height="17.2" fill="#241400"/><rect x="167.4" y="630.4" width="15.3" height="17.2" fill="#241400"/><rect x="182.7" y="630.4" width="15.3" height="17.2" fill="#1b0f00"/><rect x="198" y="630.4" width="15.3" height="17.2" fill="#241400"/>
<rect x="213.3" y="630.4" width="15.3" height="17.2" fill="#744300"/><rect x="228.6" y="630.4" width="15.3" height="17.2" fill="#8e5400"/><rect x="243.9" y="630.4" width="15.3" height="17.2" fill="#361e00"/><rect x="259.2" y="630.4" width="15.3" height="17.2" fill="#120a00"/><rect x="274.5" y="630.4" width="15.3" height="17.2" fill="#482800"/><rect x="289.8" y="630.4" width="15.3" height="17.2" fill="#361e00"/><rect x="305.1" y="630.4" width="15.3" height="17.2" fill="#482800"/><rect x="320.4" y="630.4" width="15.3" height="17.2" fill="#361e00"/><rect x="335.7" y="630.4" width="15.3" height="17.2" fill="#5a3200"/><rect x="351" y="630.4" width="15.3" height="17.2" fill="#7c4800"/><rect x="366.3" y="630.4" width="15.3" height="17.2" fill="#482800"/>
<rect x="45" y="647.6" width="15.3" height="17.2" fill="#8e5400"/><rect x="60.3" y="647.6" width="15.3" height="17.2" fill="#854e00"/><rect x="75.6" y="647.6" width="15.3" height="17.2" fill="#5a3200"/><rect x="90.9" y="647.6" width="15.3" height="17.2" fill="#512d00"/><rect x="106.2" y="647.6" width="15.3" height="17.2" fill="#faa00a"/><rect x="121.5" y="647.6" width="15.3" height="17.2" fill="#6b3d00"/><rect x="136.8" y="647.6" width="15.3" height="17.2" fill="#633800"/><rect x="152.1" y="647.6" width="15.3" height="17.2" fill="#9f5f00"/><rect x="167.4" y="647.6" width="15.3" height="17.2" fill="#6b3d00"/><rect x="182.7" y="647.6" width="15.3" height="17.2" fill="#6b3d00"/><rect x="198" y="647.6" width="15.3" height="17.2" fill="#dc8a06"/>
<rect x="213.3" y="647.6" width="15.3" height="17.2" fill="#6b3d00"/><rect x="228.6" y="647.6" width="15.3" height="17.2" fill="#faa00a"/><rect x="243.9" y="647.6" width="15.3" height="17.2" fill="#6b3d00"/><rect x="259.2" y="647.6" width="15.3" height="17.2" fill="#7c4800"/><rect x="274.5" y="647.6" width="15.3" height="17.2" fill="#8e5400"/><rect x="289.8" y="647.6" width="15.3" height="17.2" fill="#bf7502"/><rect x="305.1" y="647.6" width="15.3" height="17.2" fill="#ce8004"/><rect x="320.4" y="647.6" width="15.3" height="17.2" fill="#9f5f00"/><rect x="335.7" y="647.6" width="15.3" height="17.2" fill="#8e5400"/><rect x="351" y="647.6" width="15.3" height="17.2" fill="#8e5400"/><rect x="366.3" y="647.6" width="15.3" height="17.2" fill="#8e5400"/>
<rect x="45" y="664.8" width="15.3" height="17.2" fill="#7c4800"/><rect x="60.3" y="664.8" width="15.3" height="17.2" fill="#bf7502"/><rect x="75.6" y="664.8" width="15.3" height="17.2" fill="#1b0f00"/><rect x="90.9" y="664.8" width="15.3" height="17.2" fill="#241400"/><rect x="106.2" y="664.8" width="15.3" height="17.2" fill="#9f5f00"/><rect x="121.5" y="664.8" width="15.3" height="17.2" fill="#5a3200"/><rect x="136.8" y="664.8" width="15.3" height="17.2" fill="#482800"/><rect x="152.1" y="664.8" width="15.3" height="17.2" fill="#3f2300"/><rect x="167.4" y="664.8" width="15.3" height="17.2" fill="#6b3d00"/><rect x="182.7" y="664.8" width="15.3" height="17.2" fill="#241400"/><rect x="198" y="664.8" width="15.3" height="17.2" fill="#5a3200"/>
<rect x="213.3" y="664.8" width="15.3" height="17.2" fill="#9f5f00"/><rect x="228.6" y="664.8" width="15.3" height="17.2" fill="#eb9508"/><rect x="243.9" y="664.8" width="15.3" height="17.2" fill="#bf7502"/><rect x="259.2" y="664.8" width="15.3" height="17.2" fill="#b06a00"/><rect x="274.5" y="664.8" width="15.3" height="17.2" fill="#fdb234"/><rect x="289.8" y="664.8" width="15.3" height="17.2" fill="#eb9508"/><rect x="305.1" y="664.8" width="15.3" height="17.2" fill="#fba618"/><rect x="320.4" y="664.8" width="15.3" height="17.2" fill="#bf7502"/><rect x="335.7" y="664.8" width="15.3" height="17.2" fill="#ce8004"/><rect x="351" y="664.8" width="15.3" height="17.2" fill="#ce8004"/><rect x="366.3" y="664.8" width="15.3" height="17.2" fill="#ce8004"/>
<rect x="45" y="682" width="15.3" height="17.2" fill="#482800"/><rect x="60.3" y="682" width="15.3" height="17.2" fill="#8e5400"/><rect x="75.6" y="682" width="15.3" height="17.2" fill="#120a00"/><rect x="90.9" y="682" width="15.3" height="17.2" fill="#120a00"/><rect x="106.2" y="682" width="15.3" height="17.2" fill="#5a3200"/><rect x="121.5" y="682" width="15.3" height="17.2" fill="#482800"/><rect x="136.8" y="682" width="15.3" height="17.2" fill="#482800"/><rect x="152.1" y="682" width="15.3" height="17.2" fill="#5a3200"/><rect x="167.4" y="682" width="15.3" height="17.2" fill="#482800"/><rect x="182.7" y="682" width="15.3" height="17.2" fill="#361e00"/><rect x="198" y="682" width="15.3" height="17.2" fill="#482800"/>
<rect x="213.3" y="682" width="15.3" height="17.2" fill="#bf7502"/><rect x="228.6" y="682" width="15.3" height="17.2" fill="#fba618"/><rect x="243.9" y="682" width="15.3" height="17.2" fill="#8e5400"/><rect x="259.2" y="682" width="15.3" height="17.2" fill="#8e5400"/><rect x="274.5" y="682" width="15.3" height="17.2" fill="#dc8a06"/><rect x="289.8" y="682" width="15.3" height="17.2" fill="#dc8a06"/><rect x="305.1" y="682" width="15.3" height="17.2" fill="#faa00a"/><rect x="320.4" y="682" width="15.3" height="17.2" fill="#eb9508"/><rect x="335.7" y="682" width="15.3" height="17.2" fill="#8e5400"/><rect x="351" y="682" width="15.3" height="17.2" fill="#fba618"/><rect x="366.3" y="682" width="15.3" height="17.2" fill="#b06a00"/>
<rect x="45" y="699.2" width="15.3" height="17.2" fill="#eb9508"/><rect x="60.3" y="699.2" width="15.3" height="17.2" fill="#9f5f00"/><rect x="75.6" y="699.2" width="15.3" height="17.2" fill="#8e5400"/><rect x="90.9" y="699.2" width="15.3" height="17.2" fill="#5a3200"/><rect x="106.2" y="699.2" width="15.3" height="17.2" fill="#ffffff"/><rect x="121.5" y="699.2" width="15.3" height="17.2" fill="#b06a00"/><rect x="136.8" y="699.2" width="15.3" height="17.2" fill="#7c4800"/><rect x="152.1" y="699.2" width="15.3" height="17.2" fill="#ce8004"/><rect x="167.4" y="699.2" width="15.3" height="17.2" fill="#8e5400"/><rect x="182.7" y="699.2" width="15.3" height="17.2" fill="#7c4800"/><rect x="198" y="699.2" width="15.3" height="17.2" fill="#eb9508"/>
<rect x="213.3" y="699.2" width="15.3" height="17.2" fill="#ce8004"/><rect x="228.6" y="699.2" width="15.3" height="17.2" fill="#ffc666"/><rect x="243.9" y="699.2" width="15.3" height="17.2" fill="#dc8a06"/><rect x="259.2" y="699.2" width="15.3" height="17.2" fill="#dc8a06"/><rect x="274.5" y="699.2" width="15.3" height="17.2" fill="#fcac26"/><rect x="289.8" y="699.2" width="15.3" height="17.2" fill="#fdb234"/><rect x="305.1" y="699.2" width="15.3" height="17.2" fill="#ffbe50"/><rect x="320.4" y="699.2" width="15.3" height="17.2" fill="#dc8a06"/><rect x="335.7" y="699.2" width="15.3" height="17.2" fill="#dc8a06"/><rect x="351" y="699.2" width="15.3" height="17.2" fill="#bf7502"/><rect x="366.3" y="699.2" width="15.3" height="17.2" fill="#dc8a06"/>
<rect x="45" y="716.4" width="15.3" height="17.2" fill="#5a3200"/><rect x="60.3" y="716.4" width="15.3" height="17.2" fill="#dc8a06"/><rect x="75.6" y="716.4" width="15.3" height="17.2" fill="#241400"/><rect x="90.9" y="716.4" width="15.3" height="17.2" fill="#361e00"/><rect x="106.2" y="716.4" width="15.3" height="17.2" fill="#8e5400"/><rect x="121.5" y="716.4" width="15.3" height="17.2" fill="#6b3d00"/><rect x="136.8" y="716.4" width="15.3" height="17.2" fill="#5a3200"/><rect x="152.1" y="716.4" width="15.3" height="17.2" fill="#6b3d00"/><rect x="167.4" y="716.4" width="15.3" height="17.2" fill="#5a3200"/><rect x="182.7" y="716.4" width="15.3" height="17.2" fill="#5a3200"/><rect x="198" y="716.4" width="15.3" height="17.2" fill="#6b3d00"/>
<rect x="213.3" y="716.4" width="15.3" height="17.2" fill="#eb9508"/><rect x="228.6" y="716.4" width="15.3" height="17.2" fill="#fff3de"/><rect x="243.9" y="716.4" width="15.3" height="17.2" fill="#faa00a"/><rect x="259.2" y="716.4" width="15.3" height="17.2" fill="#faa00a"/><rect x="274.5" y="716.4" width="15.3" height="17.2" fill="#fcac26"/><rect x="289.8" y="716.4" width="15.3" height="17.2" fill="#ffcf7c"/><rect x="305.1" y="716.4" width="15.3" height="17.2" fill="#ffd792"/><rect x="320.4" y="716.4" width="15.3" height="17.2" fill="#fba618"/><rect x="335.7" y="716.4" width="15.3" height="17.2" fill="#eb9508"/><rect x="351" y="716.4" width="15.3" height="17.2" fill="#fba618"/><rect x="366.3" y="716.4" width="15.3" height="17.2" fill="#eb9508"/>
<rect x="45" y="733.6" width="15.3" height="17.2" fill="#5a3200"/><rect x="60.3" y="733.6" width="15.3" height="17.2" fill="#b06a00"/><rect x="75.6" y="733.6" width="15.3" height="17.2" fill="#241400"/><rect x="90.9" y="733.6" width="15.3" height="17.2" fill="#241400"/><rect x="106.2" y="733.6" width="15.3" height="17.2" fill="#6b3d00"/><rect x="121.5" y="733.6" width="15.3" height="17.2" fill="#5a3200"/><rect x="136.8" y="733.6" width="15.3" height="17.2" fill="#482800"/><rect x="152.1" y="733.6" width="15.3" height="17.2" fill="#5a3200"/><rect x="167.4" y="733.6" width="15.3" height="17.2" fill="#5a3200"/><rect x="182.7" y="733.6" width="15.3" height="17.2" fill="#361e00"/><rect x="198" y="733.6" width="15.3" height="17.2" fill="#5a3200"/>
<rect x="213.3" y="733.6" width="15.3" height="17.2" fill="#dc8a06"/><rect x="228.6" y="733.6" width="15.3" height="17.2" fill="#ffcf7c"/><rect x="243.9" y="733.6" width="15.3" height="17.2" fill="#b06a00"/><rect x="259.2" y="733.6" width="15.3" height="17.2" fill="#9f5f00"/><rect x="274.5" y="733.6" width="15.3" height="17.2" fill="#eb9508"/><rect x="289.8" y="733.6" width="15.3" height="17.2" fill="#fba618"/><rect x="305.1" y="733.6" width="15.3" height="17.2" fill="#fba618"/><rect x="320.4" y="733.6" width="15.3" height="17.2" fill="#faa00a"/><rect x="335.7" y="733.6" width="15.3" height="17.2" fill="#b06a00"/><rect x="351" y="733.6" width="15.3" height="17.2" fill="#dc8a06"/><rect x="366.3" y="733.6" width="15.3" height="17.2" fill="#dc8a06"/>
<rect x="45" y="750.8" width="15.3" height="17.2" fill="#6b3d00"/><rect x="60.3" y="750.8" width="15.3" height="17.2" fill="#b06a00"/><rect x="75.6" y="750.8" width="15.3" height="17.2" fill="#241400"/><rect x="90.9" y="750.8" width="15.3" height="17.2" fill="#361e00"/><rect x="106.2" y="750.8" width="15.3" height="17.2" fill="#8e5400"/><rect x="121.5" y="750.8" width="15.3" height="17.2" fill="#6b3d00"/><rect x="136.8" y="750.8" width="15.3" height="17.2" fill="#5a3200"/><rect x="152.1" y="750.8" width="15.3" height="17.2" fill="#6b3d00"/><rect x="167.4" y="750.8" width="15.3" height="17.2" fill="#5a3200"/><rect x="182.7" y="750.8" width="15.3" height="17.2" fill="#482800"/><rect x="198" y="750.8" width="15.3" height="17.2" fill="#5a3200"/>
<rect x="213.3" y="750.8" width="15.3" height="17.2" fill="#eb9508"/><rect x="228.6" y="750.8" width="15.3" height="17.2" fill="#ffc666"/><rect x="243.9" y="750.8" width="15.3" height="17.2" fill="#eb9508"/><rect x="259.2" y="750.8" width="15.3" height="17.2" fill="#eb9508"/><rect x="274.5" y="750.8" width="15.3" height="17.2" fill="#fba618"/><rect x="289.8" y="750.8" width="15.3" height="17.2" fill="#ffbe50"/><rect x="305.1" y="750.8" width="15.3" height="17.2" fill="#ffc666"/><rect x="320.4" y="750.8" width="15.3" height="17.2" fill="#fba618"/><rect x="335.7" y="750.8" width="15.3" height="17.2" fill="#faa00a"/><rect x="351" y="750.8" width="15.3" height="17.2" fill="#dc8a06"/><rect x="366.3" y="750.8" width="15.3" height="17.2" fill="#eb9508"/>
</g>
<line x1="213.3" y1="596" x2="213.3" y2="768" stroke="#000" stroke-width="2"/>
<g font-style="italic" font-size="12.5">
<text x="389" y="609">CYP7A1</text><text x="389" y="626.5">AMACR</text><text x="389" y="643.5">CYP8B1</text><text x="389" y="661">ACOT8</text><text x="389" y="678">CYP27A1</text><text x="389" y="695">HSD3B7</text><text x="389" y="712.5">ACOX2</text><text x="389" y="729.5">HSD17B4</text><text x="389" y="747">ABCD3</text><text x="389" y="764">SCP2</text>
</g>
<g font-size="11" text-anchor="end">
<text transform="translate(56.7,772) rotate(-90)">Heart</text><text transform="translate(72,772) rotate(-90)">Kid. Cortex</text><text transform="translate(87.3,772) rotate(-90)">Kid. Medulla</text><text transform="translate(102.6,772) rotate(-90)">Colon</text><text transform="translate(117.9,772) rotate(-90)">Liver</text><text transform="translate(133.2,772) rotate(-90)">Lung</text><text transform="translate(148.5,772) rotate(-90)">Muscle</text><text transform="translate(163.8,772) rotate(-90)">Skin</text><text transform="translate(179.1,772) rotate(-90)">Sm. Intestine</text><text transform="translate(194.4,772) rotate(-90)">Spleen</text><text transform="translate(209.7,772) rotate(-90)">Adipose</text>
<text transform="translate(225,772) rotate(-90)">Heart</text><text transform="translate(240.3,772) rotate(-90)">Kid. Cortex</text><text transform="translate(255.6,772) rotate(-90)">Kid. Medulla</text><text transform="translate(270.9,772) rotate(-90)">Colon</text><text transform="translate(286.2,772) rotate(-90)">Liver</text><text transform="translate(301.5,772) rotate(-90)">Lung</text><text transform="translate(316.8,772) rotate(-90)">Muscle</text><text transform="translate(332.1,772) rotate(-90)">Skin</text><text transform="translate(347.4,772) rotate(-90)">Sm. Intestine</text><text transform="translate(362.7,772) rotate(-90)">Spleen</text><text transform="translate(378,772) rotate(-90)">Adipose</text>
</g>
<rect x="474" y="600" width="19" height="167" fill="url(#cb)"/>
<path d="M493,620H496M493,647H496M493,673H496M493,700H496M493,727H496M493,754H496" stroke="#555" stroke-width="0.8"/>
<g font-size="12"><text x="498" y="624">2.5</text><text x="498" y="651">2</text><text x="498" y="677">1.5</text><text x="498" y="704">1</text><text x="498" y="731">0.5</text><text x="498" y="758">0</text></g>
<text transform="translate(467,683) rotate(-90)" text-anchor="middle" font-size="13">Gene expression</text>
</g>

<!-- ================= PANEL G ================= -->
<g font-size="13" fill="#222">
<path d="M628,642V780M623,642H628M623,676H628M623,710H628M623,744H628M623,778H628M628,780H803M635,780V785M677,780V785M719,780V785M761,780V785M803,780V785" stroke="#555" stroke-width="1" fill="none"/>
<g text-anchor="end"><text x="621" y="646.5">200</text><text x="621" y="680.5">150</text><text x="621" y="714.5">100</text><text x="621" y="748.5">50</text><text x="621" y="782.5">0</text></g>
<g text-anchor="middle"><text x="635" y="800">0</text><text x="677" y="800">30</text><text x="719" y="800">60</text><text x="761" y="800">90</text><text x="803" y="800">120</text><text x="720" y="818">Time (min)</text></g>
<text transform="translate(594,710) rotate(-90)" text-anchor="middle" font-size="12.5">Serum FGF19 (pg/ml)</text>
<path d="M635,654.2V677.4M632,654.2H638M632,677.4H638M677,650.8V684.2M674,650.8H680M674,684.2H680M719,658.3V688.2M716,658.3H722M716,688.2H722M803,662.4V699.1M800,662.4H806M800,699.1H806" stroke="#8ab0e0" stroke-width="1"/>
<polyline points="635,665.8 677,667.8 719,673.3 803,680.8" fill="none" stroke="#8ab0e0" stroke-width="1.3"/>
<g fill="#8ab0e0"><circle cx="635" cy="665.8" r="3.8"/><circle cx="677" cy="667.8" r="3.8"/><circle cx="719" cy="673.3" r="3.8"/><circle cx="803" cy="680.8" r="3.8"/></g>
<path d="M635,725V743.3M632,725H638M632,743.3H638M677,729V745.4M674,729H680M674,745.4H680M719,723.6V744M716,723.6H722M716,744H722M803,722.2V744M800,722.2H806M800,744H806" stroke="#8a5a9a" stroke-width="1"/>
<polyline points="635,734.5 677,737.2 719,733.8 803,733.1" fill="none" stroke="#4b1a5a" stroke-width="1.3"/>
<g fill="#4b1a5a"><circle cx="635" cy="734.5" r="3.8"/><circle cx="677" cy="737.2" r="3.8"/><circle cx="719" cy="733.8" r="3.8"/><circle cx="803" cy="733.1" r="3.8"/></g>
<g font-size="15" text-anchor="middle"><text x="635" y="655">**</text><text x="677" y="654">**</text><text x="719" y="663">*</text><text x="803" y="666">*</text></g>
<line x1="741" y1="755" x2="763" y2="755" stroke="#8ab0e0" stroke-width="1.3"/><circle cx="752" cy="755" r="3.8" fill="#8ab0e0"/><text x="774" y="760">Ct</text>
<line x1="741" y1="770" x2="763" y2="770" stroke="#4b1a5a" stroke-width="1.3"/><circle cx="752" cy="770" r="3.8" fill="#4b1a5a"/><text x="774" y="775">HFHS</text>
</g>

<!-- ================= PANEL H ================= -->
<g>
<text x="140" y="846" text-anchor="middle" font-size="13" fill="#222">3-channel microfluidic</text>
<rect x="26" y="848" width="116" height="114" fill="#d5d4cf"/>
<path d="M40,852 L120,852 L134,866 L134,950 L122,960 L40,960 L30,948 L30,862Z" fill="#e2e1dc" stroke="#b8b6b0" stroke-width="1"/>
<path d="M128,866 L136,866 L136,946 L128,950Z" fill="#8c6c98"/>
<g fill="#efeeea" stroke="#c8a8c4" stroke-width="1"><circle cx="56" cy="883" r="15"/><circle cx="108" cy="884" r="15"/><circle cx="59" cy="935" r="15"/><circle cx="113" cy="933" r="15"/></g>
<g fill="#d63cc8"><circle cx="56" cy="883" r="11"/><circle cx="108" cy="884" r="11"/><circle cx="59" cy="935" r="11"/><circle cx="113" cy="933" r="11"/></g>
<path d="M56,896 L68,906 M108,897 L96,906 M59,922 L68,908 M113,920 L98,908" stroke="#c8b8c4" stroke-width="1.5"/>
<line x1="48" y1="906" x2="124" y2="906" stroke="#a8dc60" stroke-width="3"/>
<rect x="116" y="902" width="6" height="7" fill="#40b030"/>
<rect x="70" y="899" width="20" height="16" fill="none" stroke="#333" stroke-width="0.8" stroke-dasharray="2,1.5"/>
<path d="M90,899 L144,850 M90,915 L144,903" stroke="#333" stroke-width="0.8" stroke-dasharray="2,1.5"/>
<rect x="144" y="850" width="99" height="52" fill="#140806"/>
<rect x="144" y="857" width="99" height="38" fill="url(#rdots)"/>
<g fill="#cfc83a"><rect x="150" y="851" width="8" height="7"/><rect x="168" y="852" width="7" height="8"/><rect x="188" y="851" width="8" height="7"/><rect x="208" y="852" width="7" height="8"/><rect x="226" y="851" width="8" height="7"/><rect x="158" y="893" width="7" height="8"/><rect x="180" y="894" width="8" height="7"/><rect x="200" y="893" width="7" height="8"/><rect x="220" y="894" width="8" height="7"/></g>
<line x1="228" y1="897" x2="236" y2="897" stroke="#fff" stroke-width="1.2"/>
<rect x="144" y="905" width="99" height="57" fill="url(#gmesh)"/>
<line x1="228" y1="957" x2="236" y2="957" stroke="#fff" stroke-width="1.2"/>
<text transform="translate(254,910) rotate(-90)" text-anchor="middle" font-size="13"><tspan fill="#2fb03a">CD31 </tspan><tspan fill="#e02020">EC </tspan><tspan fill="#3050e0">DAPI</tspan></text>
<text transform="translate(268,900) rotate(-90)" text-anchor="middle" font-size="13" fill="#30a8e8">VE-Cadherin</text>
</g>

<!-- ================= PANEL I ================= -->
<g font-size="13" fill="#222">
<path d="M77,981V1082M72,981H77M72,1006H77M72,1031H77M72,1056H77M72,1081H77M77,1082H140M90,1082V1088M110,1082V1088M129,1082V1088" stroke="#555" stroke-width="1" fill="none"/>
<g text-anchor="end"><text x="70" y="985.5">2.0</text><text x="70" y="1010.5">1.5</text><text x="70" y="1035.5">1.0</text><text x="70" y="1060.5">0.5</text><text x="70" y="1085.5">0.0</text></g>
<text transform="translate(39,1030) rotate(-90)" text-anchor="middle" font-size="14">ROS levels</text>
<rect x="83" y="1031" width="14" height="50" fill="#e9dbc3" stroke="#777" stroke-width="0.6"/>
<rect x="103" y="1011" width="14" height="70" fill="#f3b57c" stroke="#777" stroke-width="0.6"/>
<rect x="122" y="1019" width="14" height="62" fill="#ee8c84" stroke="#777" stroke-width="0.6"/>
<g fill="#c8a070"><circle cx="86" cy="1030" r="1.7"/><circle cx="89" cy="1026" r="1.7"/><circle cx="93" cy="1033" r="1.7"/><circle cx="87" cy="1036" r="1.7"/><circle cx="92" cy="1028" r="1.7"/><circle cx="90" cy="1022" r="1.7"/><circle cx="85" cy="1040" r="1.7"/><circle cx="94" cy="1038" r="1.7"/><circle cx="88" cy="1032" r="1.7"/><circle cx="91" cy="1035" r="1.7"/><circle cx="86" cy="1025" r="1.7"/><circle cx="93" cy="1030" r="1.7"/></g>
<g fill="#f07a1a"><circle cx="106" cy="1004" r="1.7"/><circle cx="110" cy="998" r="1.7"/><circle cx="114" cy="1003" r="1.7"/><circle cx="107" cy="1010" r="1.7"/><circle cx="113" cy="1009" r="1.7"/><circle cx="109" cy="1015" r="1.7"/><circle cx="105" cy="1020" r="1.7"/><circle cx="115" cy="1018" r="1.7"/><circle cx="108" cy="1025" r="1.7"/><circle cx="112" cy="1012" r="1.7"/><circle cx="106" cy="1040" r="1.7"/><circle cx="114" cy="1030" r="1.7"/></g>
<g fill="#e01818"><circle cx="125" cy="1006" r="1.7"/><circle cx="129" cy="1008" r="1.7"/><circle cx="133" cy="1007" r="1.7"/><circle cx="126" cy="1014" r="1.7"/><circle cx="132" cy="1013" r="1.7"/><circle cx="128" cy="1018" r="1.7"/><circle cx="124" cy="1020" r="1.7"/><circle cx="134" cy="1022" r="1.7"/><circle cx="127" cy="1024" r="1.7"/><circle cx="131" cy="1026" r="1.7"/><circle cx="129" cy="1028" r="1.7"/><circle cx="125" cy="1030" r="1.7"/></g>
<path d="M90,1029V1033M87,1029H93M110,1007V1015M107,1007H113M129,1016V1022M126,1016H132" stroke="#333" stroke-width="0.8"/>
<g font-size="15" text-anchor="middle"><text x="110" y="998">***</text><text x="129" y="1011">**</text></g>
<g text-anchor="end"><text transform="translate(94,1094) rotate(-45)">Vehicle</text><text transform="translate(114,1094) rotate(-45)">CDCA</text><text transform="translate(133,1094) rotate(-45)">HCA</text></g>
</g>

<!-- ================= PANEL J ================= -->
<g font-size="13" fill="#222">
<path d="M192,978V1078M187,978H192M187,1002.75H192M187,1027.5H192M187,1052.25H192M187,1077H192M192,1078H265M215,1078V1084M235.5,1078V1084M255,1078V1084" stroke="#555" stroke-width="1" fill="none"/>
<g text-anchor="end"><text x="185" y="982.5">4</text><text x="185" y="1007">3</text><text x="185" y="1032">2</text><text x="185" y="1056.5">1</text><text x="185" y="1081.5">0</text></g>
<text transform="translate(178,1030) rotate(-90)" text-anchor="middle" font-size="14">Monocyte adhesion</text>
<rect x="208" y="1051.8" width="14" height="25.2" fill="#e9dbc3" stroke="#777" stroke-width="0.6"/>
<rect x="229" y="1036" width="13" height="41" fill="#f3b57c" stroke="#777" stroke-width="0.6"/>
<rect x="248" y="1037.4" width="14" height="39.6" fill="#ee8c84" stroke="#777" stroke-width="0.6"/>
<g fill="#d8c4a0" fill-opacity="0.85"><circle cx="211" cy="1050" r="1.8"/><circle cx="214" cy="1045" r="1.8"/><circle cx="218" cy="1052" r="1.8"/><circle cx="220" cy="1060" r="1.8"/><circle cx="209" cy="1062" r="1.8"/><circle cx="213" cy="1066" r="1.8"/><circle cx="217" cy="1070" r="1.8"/><circle cx="221" cy="1055" r="1.8"/><circle cx="210" cy="1040" r="1.8"/><circle cx="216" cy="1035" r="1.8"/><circle cx="212" cy="1058" r="1.8"/><circle cx="219" cy="1048" r="1.8"/><circle cx="215" cy="1074" r="1.8"/><circle cx="208" cy="1068" r="1.8"/><circle cx="222" cy="1064" r="1.8"/><circle cx="214" cy="1028" r="1.8"/><circle cx="211" cy="1072" r="1.8"/><circle cx="218" cy="1042" r="1.8"/></g>
<g fill="#f59a40"><circle cx="231" cy="1030" r="1.8"/><circle cx="235" cy="1025" r="1.8"/><circle cx="239" cy="1033" r="1.8"/><circle cx="233" cy="1040" r="1.8"/><circle cx="237" cy="1036" r="1.8"/><circle cx="241" cy="1045" r="1.8"/><circle cx="230" cy="1048" r="1.8"/><circle cx="236" cy="1052" r="1.8"/><circle cx="240" cy="1028" r="1.8"/><circle cx="232" cy="1020" r="1.8"/><circle cx="238" cy="1018" r="1.8"/><circle cx="234" cy="1058" r="1.8"/><circle cx="236" cy="1000" r="1.8"/><circle cx="242" cy="1040" r="1.8"/><circle cx="230" cy="1036" r="1.8"/><circle cx="239" cy="1055" r="1.8"/><circle cx="233" cy="1044" r="1.8"/><circle cx="237" cy="1012" r="1.8"/></g>
<g fill="#e83030"><circle cx="251" cy="1030" r="1.8"/><circle cx="255" cy="1026" r="1.8"/><circle cx="259" cy="1034" r="1.8"/><circle cx="253" cy="1040" r="1.8"/><circle cx="257" cy="1038" r="1.8"/><circle cx="261" cy="1046" r="1.8"/><circle cx="250" cy="1050" r="1.8"/><circle cx="256" cy="1054" r="1.8"/><circle cx="260" cy="1028" r="1.8"/><circle cx="252" cy="1022" r="1.8"/><circle cx="258" cy="1020" r="1.8"/><circle cx="254" cy="1058" r="1.8"/><circle cx="255" cy="1008" r="1.8"/><circle cx="262" cy="1040" r="1.8"/><circle cx="250" cy="1038" r="1.8"/><circle cx="259" cy="1056" r="1.8"/><circle cx="253" cy="1045" r="1.8"/><circle cx="257" cy="1032" r="1.8"/></g>
<g font-size="15" text-anchor="middle"><text x="235" y="995">***</text><text x="255" y="1013">***</text></g>
<g text-anchor="end"><text transform="translate(219,1091) rotate(-45)">Vehicle</text><text transform="translate(239,1091) rotate(-45)">CDCA</text><text transform="translate(259,1091) rotate(-45)">HCA</text></g>
</g>

<!-- ================= PANEL K ================= -->
<g>
<text x="405" y="871" text-anchor="middle" font-size="12.5" fill="#222">IV infusion w/ HCA+CDCA</text>
<rect x="356" y="883" width="50" height="10" fill="#70727a"/>
<rect x="362" y="885" width="30" height="4" fill="#b0b2b8"/>
<rect x="404" y="882" width="42" height="10" rx="2" fill="#dde2e6" stroke="#9aa0a6" stroke-width="0.8"/>
<rect x="446" y="885" width="6" height="4" fill="#bcc2c8"/>
<path d="M452,887 C466,888 470,898 472,912" stroke="#c8d0d8" stroke-width="1.5" fill="none"/>
<rect x="352" y="895" width="80" height="36" rx="3" fill="#d9464a"/>
<rect x="352" y="895" width="80" height="5" fill="#c23a3e"/>
<rect x="362" y="905" width="16" height="6" fill="#6ab08a"/>
<g fill="#3a3a44"><rect x="362" y="914" width="4" height="5"/><rect x="368" y="914" width="4" height="5"/><rect x="374" y="914" width="4" height="5"/><rect x="384" y="914" width="7" height="3"/><rect x="394" y="914" width="7" height="3"/><rect x="404" y="914" width="7" height="3"/><rect x="414" y="912" width="6" height="6"/></g>
<path d="M438,930 C425,935 412,938 400,937" stroke="#d8a8a8" stroke-width="1.5" fill="none"/>
<ellipse cx="458" cy="924" rx="22" ry="11" fill="#3a3234"/>
<ellipse cx="477" cy="918" rx="9" ry="7" fill="#3a3234"/>
<circle cx="474" cy="910" r="3.5" fill="#4a4244"/>
<path d="M445,934 l-2,4 M468,934 l2,4" stroke="#d8a8a8" stroke-width="1.5"/>
</g>

<!-- ================= PANEL L ================= -->
<g font-size="13" fill="#222">
<text transform="translate(300,1010) rotate(-90)" text-anchor="middle" font-size="12.5">Relative</text>
<text transform="translate(313,1010) rotate(-90)" text-anchor="middle" font-size="12.5">mRNA expression</text>
<text x="373" y="965" text-anchor="middle" font-style="italic">Vcam-1</text>
<path d="M333,958V1057M328,958H333M328,977.8H333M328,997.6H333M328,1017.4H333M328,1037.2H333M328,1057H333M333,1057H405M355,1057V1063M375,1057V1063M394,1057V1063" stroke="#555" stroke-width="1" fill="none"/>
<g text-anchor="end"><text x="327" y="962.5">10</text><text x="327" y="982">8</text><text x="327" y="1002">6</text><text x="327" y="1022">4</text><text x="327" y="1041.5">2</text><text x="327" y="1061.5">0</text></g>
<rect x="348" y="1047.1" width="14" height="9.9" fill="#f2ebcc" stroke="#333" stroke-width="0.7"/>
<rect x="368" y="1011.5" width="14" height="45.5" fill="#c8305a" stroke="#333" stroke-width="0.7"/>
<rect x="387" y="995.6" width="14" height="61.4" fill="#c2b474" stroke="#333" stroke-width="0.7"/>
<path d="M355,1047.1V1045.5M352,1045.5H358M375,1011.5V997.6M372,997.6H378M394,995.6V977.8M391,977.8H397" stroke="#333" stroke-width="0.9"/>
<g font-size="15" text-anchor="middle"><text x="375" y="1000">*</text><text x="394" y="981">**</text></g>
<text x="477" y="965" text-anchor="middle" font-style="italic">Icam-1</text>
<path d="M435,958V1057M430,958H435M430,977.8H435M430,997.6H435M430,1017.4H435M430,1037.2H435M430,1057H435M435,1057H507M456,1057V1063M475,1057V1063M495,1057V1063" stroke="#555" stroke-width="1" fill="none"/>
<g text-anchor="end"><text x="429" y="962.5">10</text><text x="429" y="982">8</text><text x="429" y="1002">6</text><text x="429" y="1022">4</text><text x="429" y="1041.5">2</text><text x="429" y="1061.5">0</text></g>
<rect x="449" y="1047.1" width="13" height="9.9" fill="#f2ebcc" stroke="#333" stroke-width="0.7"/>
<rect x="469" y="1020.4" width="13" height="36.6" fill="#c8305a" stroke="#333" stroke-width="0.7"/>
<rect x="488" y="1000.6" width="14" height="56.4" fill="#c2b474" stroke="#333" stroke-width="0.7"/>
<path d="M456,1047.1V1045.5M453,1045.5H459M475,1020.4V1013.4M472,1013.4H478M495,1000.6V986.7M492,986.7H498" stroke="#333" stroke-width="0.9"/>
<g font-size="15" text-anchor="middle"><text x="475" y="1016">*</text><text x="495" y="990">**</text></g>
<g text-anchor="end" font-size="12.5">
<text transform="translate(359,1069) rotate(-45)">Vehicle</text><text transform="translate(379,1069) rotate(-45)">HCA+CDCA</text><text transform="translate(398,1069) rotate(-45)">LPS</text>
<text transform="translate(460,1069) rotate(-45)">Vehicle</text><text transform="translate(479,1069) rotate(-45)">HCA+CDCA</text><text transform="translate(499,1069) rotate(-45)">LPS</text>
</g>
</g>

<!-- ================= PANEL M ================= -->
<g>
<g font-size="13" fill="#222" text-anchor="middle"><text x="587" y="856">Vehicle</text><text x="690" y="856">HCA+CDCA</text><text x="793" y="856">LPS</text></g>
<g stroke="#bbb" stroke-width="0.8">
<rect x="539" y="859" width="97" height="97" fill="url(#gv)"/>
<rect x="642" y="859" width="97" height="97" fill="url(#gvr)"/>
<rect x="745" y="859" width="97" height="97" fill="url(#gl)"/>
<rect x="539" y="960" width="97" height="97" fill="url(#rv)"/>
<rect x="642" y="960" width="97" height="97" fill="url(#rb)"/>
<rect x="745" y="960" width="97" height="97" fill="url(#rl)"/>
</g>
<path d="M590,905 C592,915 598,925 608,932" stroke="#d8d040" stroke-width="2.5" fill="none"/>
<path d="M672,898 C680,890 688,884 694,876" stroke="#e0c030" stroke-width="4" fill="none"/>
<path d="M750,870 l8,8 M790,865 l10,-4 M815,920 l8,10" stroke="#d8c840" stroke-width="3" fill="none"/>
<path d="M590,1006 C592,1016 598,1026 608,1033" stroke="#c01818" stroke-width="2" fill="none"/>
<path d="M672,998 C680,990 688,984 694,976" stroke="#ff2020" stroke-width="6" fill="none"/>
<path d="M646,1020 C660,1016 670,1012 680,1015" stroke="#ff2020" stroke-width="3" fill="none"/>
<path d="M760,972 c6,2 8,8 4,12 M815,1025 c4,-4 10,-2 10,6" stroke="#e01818" stroke-width="4" fill="none"/>
<g stroke="#fff" stroke-width="1.3"><path d="M621,949H630M724,949H733M827,949H836M621,1050H630M724,1050H733M827,1050H836"/></g>
<text transform="translate(533,907) rotate(-90)" text-anchor="middle" font-size="13"><tspan fill="#2fc040">CD31 </tspan><tspan fill="#e82020">VCAM-1</tspan></text>
<text transform="translate(533,1010) rotate(-90)" text-anchor="middle" font-size="13" fill="#e82020">VCAM-1</text>
</g>
</svg>
</body></html>
